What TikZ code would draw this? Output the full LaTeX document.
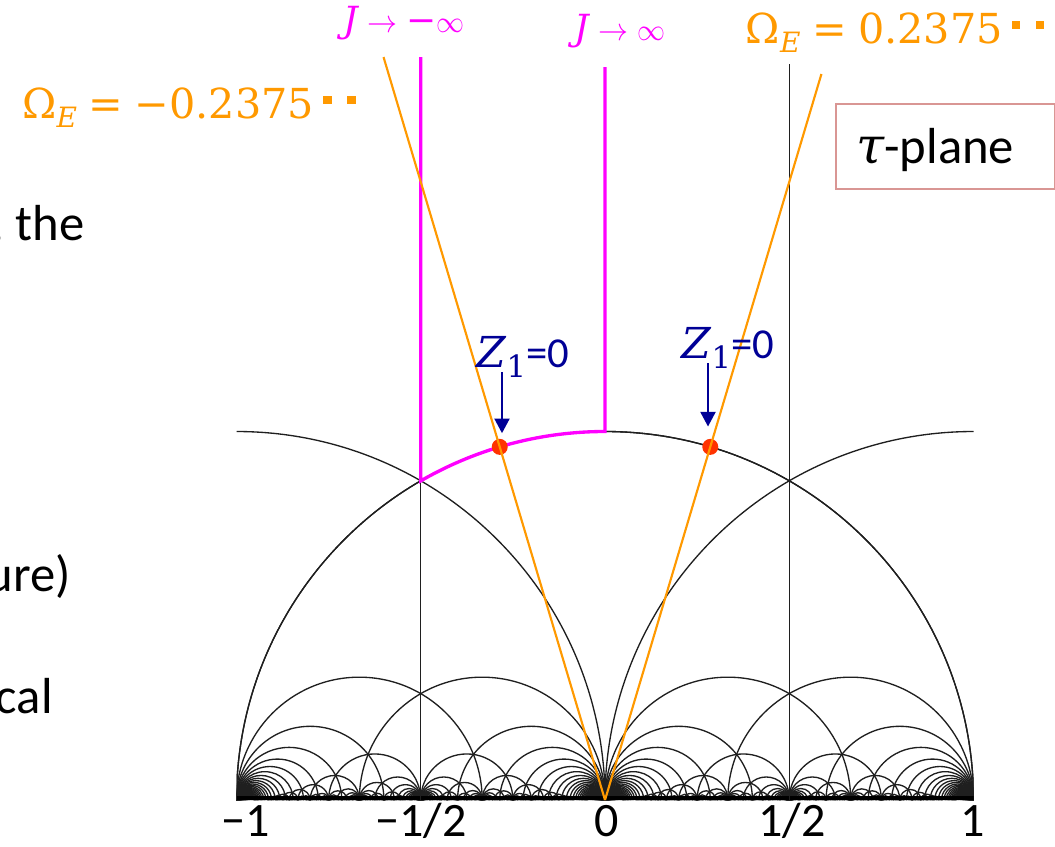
\documentclass[tikz,border=0pt]{standalone}
\usepackage{fontspec}
\usepackage{graphicx}
\setmainfont{Carlito}
\newfontfamily\dvs{DejaVu Serif}
\usetikzlibrary{arrows.meta}
\definecolor{mag}{RGB}{255,0,255}
\definecolor{org}{RGB}{255,153,0}
\definecolor{reddot}{RGB}{255,51,0}
\definecolor{navyc}{RGB}{0,0,150}
\definecolor{boxc}{RGB}{217,150,148}

\newcount\fgA \newcount\fgB \newcount\fgT
\def\gcdset#1#2{\fgA=#1\relax \ifnum\fgA<0 \fgA=-\fgA\fi
  \fgB=#2\relax \ifnum\fgB<0 \fgB=-\fgB\fi \gcdloop}
\def\gcdloop{\ifnum\fgB=0 \else
  \fgT=\fgA \divide\fgT by \fgB \multiply\fgT by \fgB
  \fgT=\numexpr\fgA-\fgT\relax
  \fgA=\fgB \fgB=\fgT
  \expandafter\gcdloop\fi}
\newcount\fcT \newcount\fcR
\def\Bmax{450}
\newcommand\tryarc[4]{%
  \let\fardoarc\relax
  \fcT=\numexpr #1*#3-(#4)\relax
  \fcR=\fcT \divide\fcR by #2\relax
  \ifnum\numexpr\fcR*#2\relax=\fcT
   \ifnum\fcR>#3\relax\else
    \ifnum\fcR<-#3\relax\else
     \gcdset{\fcR}{#3}%
     \ifnum\fgA=1
      \ifnum#4<0
       \edef\fardoarc{\noexpand\draw[geo] (#1/#2,0) arc[start angle=180,end angle=0,radius={1/\the\numexpr#2*#3\relax}];}%
      \else
       \edef\fardoarc{\noexpand\draw[geo] (\the\fcR/#3,0) arc[start angle=180,end angle=0,radius={1/\the\numexpr#2*#3\relax}];}%
      \fi
     \fi
    \fi
   \fi
  \fi
  \fardoarc}
\newcommand\sqd{\rule[0.33em]{0.2em}{0.2em}}
\newcommand\twodots{\hspace{0.22em}\sqd\hspace{0.38em}\sqd}
\newcommand\omlab[1]{{\fontsize{31pt}{37pt}\dvs Ω\raisebox{-7pt}{\fontsize{21pt}{25pt}\selectfont\itshape E}\hspace{0.28em}=\hspace{0.28em}#10.2375\twodots}}
\newcommand\zlab{{\fontsize{32pt}{38pt}\selectfont{\dvs\itshape Z}\raisebox{-7.5pt}{\dvs\fontsize{23pt}{27pt}\selectfont 1}=0}}
\newcommand\jarrow{\hspace{0.25em}\scalebox{2.25}[2.4]{\normalsize$\rightarrow$}\hspace{0.25em}}
\newcommand\jinf{\scalebox{2.1}[2.3]{\normalsize$\infty$}}
\newcommand\jlab[1]{{\fontsize{27pt}{32pt}\dvs{\itshape J}\jarrow#1\jinf}}

\begin{document}
\begin{tikzpicture}[x=0.75pt,y=-0.75pt,
  geo/.style={draw=black!88, line width=1pt},
  magline/.style={draw=mag, line width=2.5pt, line join=miter},
  orgline/.style={draw=org, line width=1.6pt},
  dotst/.style={circle, fill=reddot, inner sep=0pt, minimum size=12pt},
  navarrow/.style={draw=navyc, line width=2.2pt, -{Triangle[width=11pt,length=11pt]}},
  lab/.style={inner sep=0pt, anchor=base}]
\useasboundingbox (0,0) rectangle (1055,846);
\begin{scope}[shift={(605,800)},x=276.375pt,y=276.375pt]
 \begin{scope}
  \clip (-1,-0.01) rectangle (1,2.1);
  \foreach \fq in {1,...,21}{%
    \pgfmathtruncatemacro\farsmax{\Bmax/\fq}%
    \edef\farmq{\the\numexpr-\fq\relax}%
    \foreach \fp in {\farmq,...,\fq}{%
      \gcdset{\fp}{\fq}%
      \ifnum\fgA=1 \def\farnext{\foreach \fs in {\fq,...,\farsmax}{\tryarc{\fp}{\fq}{\fs}{2}\tryarc{\fp}{\fq}{\fs}{-2}}}\else\def\farnext{}\fi
      \farnext}}
  \draw[geo] (0,0) arc[start angle=180,end angle=90,radius=1];
  \draw[geo] (-1,1) arc[start angle=90,end angle=0,radius=1];
  \fill[black] (-1,0) rectangle (1,0.01);
 \end{scope}
 \draw[geo] (-0.5,0) -- (-0.5,2.0);
 \draw[geo] (0.5,0) -- (0.5,1.997);
 \draw[magline] (-0.5,2.016) -- (-0.5,0.86603) arc[start angle=120,end angle=90,radius=1] -- (0,1.989);
 \node[dotst] (dotL) at (106.6:1) {};
 \node[dotst] (dotR) at (73.4:1) {};
 \coordinate (O) at (0,0);
 \draw[orgline] (O) -- (106.6:2.104);
 \draw[orgline] (O) -- (73.4:2.056);
\end{scope}
% arrows
\coordinate (arL) at (502,372);
\coordinate (arR) at (708,363);
\draw[navarrow, shorten >=4pt] (arL) -- (arL |- dotL.north);
\draw[navarrow, shorten >=9pt] (arR) -- (arR |- dotR.north);
% labels
\node[lab, text=navyc] (zL) at (523,367) {\zlab};
\node[lab, text=navyc] (zR) at (728,358) {\zlab};
\node[lab, text=mag] (jm) at (404,32) {\jlab{−}};
\node[lab, text=mag] (jp) at (620,40) {\jlab{}};
\node[lab, text=org] (omp) at (895,43) {\omlab{}};
\node[lab, text=org] (omm) at (189,118) {\omlab{−}};
\node[draw=boxc, line width=1.5pt, anchor=north west, minimum width=164pt, minimum height=63.5pt, inner sep=0pt] (taubox) at (835,103) {};
\node[lab, anchor=base west] (taulab) at (856,163) {\fontsize{38pt}{44pt}\selectfont{\dvs\itshape τ}-plane};
% axis
\node[lab] (tm1) at (246,836) {\fontsize{36pt}{42pt}\selectfont −1};
\node[lab] (tmh) at (421,836) {\fontsize{36pt}{42pt}\selectfont −1/2};
\node[lab] (t0) at (607,836) {\fontsize{36pt}{42pt}\selectfont 0};
\node[lab] (tph) at (792,836) {\fontsize{36pt}{42pt}\selectfont 1/2};
\node[lab] (tp1) at (973,836) {\fontsize{36pt}{42pt}\selectfont 1};
% cut-off slide text
\node[lab, anchor=base east] (f1) at (85,240) {\fontsize{38pt}{44pt}\selectfont , the};
\node[lab, anchor=base east] (f2) at (71,591) {\fontsize{38pt}{44pt}\selectfont ure)};
\node[lab, anchor=base east] (f3) at (53,713) {\fontsize{38pt}{44pt}\selectfont cal};
\end{tikzpicture}
\end{document}
